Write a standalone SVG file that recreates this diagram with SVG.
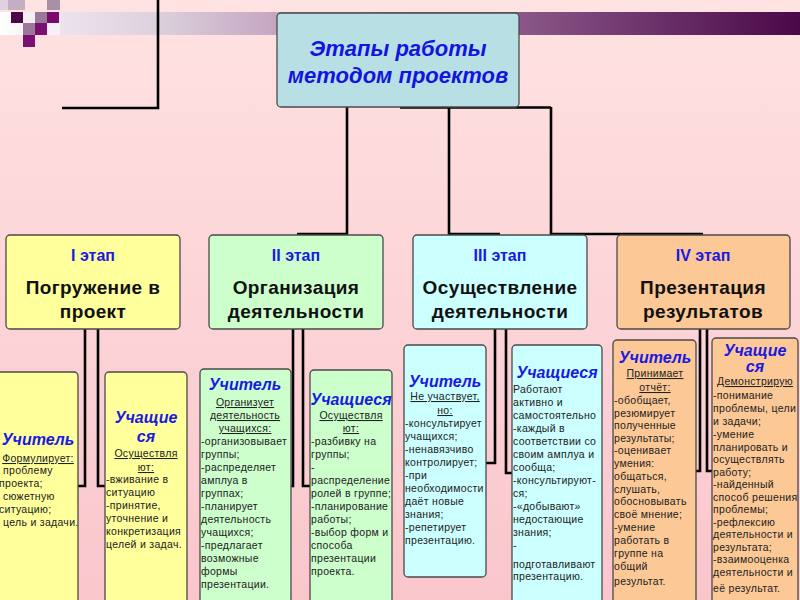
<svg xmlns="http://www.w3.org/2000/svg" width="800" height="600" viewBox="0 0 800 600">
<defs>
<linearGradient id="bg" x1="0" y1="0" x2="0" y2="1">
<stop offset="0" stop-color="#ffe2e2"/>
<stop offset="1" stop-color="#f9c6cc"/>
</linearGradient>
<linearGradient id="band" gradientUnits="userSpaceOnUse" x1="0" y1="0" x2="800" y2="0">
<stop offset="0" stop-color="#ffffff"/>
<stop offset="0.08" stop-color="#ece2ec"/>
<stop offset="0.2" stop-color="#dcd0dc"/>
<stop offset="0.35" stop-color="#c4a4c0"/>
<stop offset="0.65" stop-color="#8a5888"/>
<stop offset="1" stop-color="#4a0848"/>
</linearGradient>
<style>
.box{stroke:#4a4a4a;stroke-width:1.3}
.y{fill:#ffff9c}.g{fill:#ccffcc}.c{fill:#ccffff}.o{fill:#fcc896}
.ttl{font-family:"Liberation Sans",Arial,sans-serif;font-weight:bold;font-style:italic;font-size:22px;fill:#1414e0;text-anchor:middle}
.st{font-family:"Liberation Sans",Arial,sans-serif;font-weight:bold;font-size:16px;fill:#1a1ae0;text-anchor:middle}
.sn{font-family:"Liberation Sans",Arial,sans-serif;font-weight:bold;font-size:19px;letter-spacing:0.4px;fill:#111;text-anchor:middle}
.h{font-family:"Liberation Sans",Arial,sans-serif;font-weight:bold;font-style:italic;font-size:16px;fill:#1a1ae0;text-anchor:middle}
.u{font-family:"Liberation Sans",Arial,sans-serif;font-size:10.5px;letter-spacing:0.3px;fill:#222;text-anchor:middle;text-decoration:underline}
.t{font-family:"Liberation Sans",Arial,sans-serif;font-size:10.5px;letter-spacing:0.3px;fill:#222}
.ln{fill:none;stroke:#000;stroke-width:2.6}
</style>
</defs>
<rect x="0" y="0" width="800" height="600" fill="url(#bg)"/>
<!-- decoration -->
<rect x="0" y="12" width="800" height="23" fill="url(#band)"/>
<rect x="0" y="0" width="8" height="10" fill="#e0d0e0"/>
<rect x="8" y="0" width="17" height="10" fill="#c4aec4"/>
<rect x="47" y="0" width="13" height="10" fill="#a890a8"/>
<rect x="11" y="12" width="12" height="11" fill="#4a0848"/>
<rect x="23" y="12" width="12" height="11" fill="#f4eef4"/>
<rect x="35" y="12" width="12" height="11" fill="#9a7898"/>
<rect x="47" y="12" width="12" height="11" fill="#7a0a70"/>
<rect x="23" y="23" width="12" height="12" fill="#9a7898"/>
<rect x="35" y="23" width="12" height="12" fill="#7a1070"/>
<rect x="47" y="23" width="13" height="12" fill="#f8f0f8"/>
<rect x="23" y="35" width="12" height="12" fill="#7a1070"/>
<path class="ln" d="M158,0 V108 H62"/>

<g id="connectors">
<path class="ln" d="M400,107.5 H551 M347,107 V234 H297 M449,107 V234 H500 M551,107 V234 H703"/>
<path class="ln" d="M85,329 V486 H78 M98,329 V486 H105"/>
<path class="ln" d="M293,329 V486 H291 M303,329 V486 H310"/>
<path class="ln" d="M495,329 V463 H486 M506,329 V473 H512"/>
<path class="ln" d="M700,329 V471 H696 M707,329 V471 H712"/>
</g>

<g id="title">
<rect class="box" x="277" y="13" width="242" height="94" rx="4" fill="#b8e0e4"/>
<text class="ttl" x="398" y="56">Этапы работы</text>
<text class="ttl" x="398" y="83">методом проектов</text>
</g>

<g id="stage1">
<rect class="box y" x="6" y="235" width="174" height="94" rx="4"/>
<text class="st" x="93" y="261">I этап</text>
<text class="sn" x="93" y="294">Погружение в</text>
<text class="sn" x="93" y="318">проект</text>
</g>
<g id="stage2">
<rect class="box g" x="209" y="235" width="174" height="94" rx="4"/>
<text class="st" x="296" y="261">II этап</text>
<text class="sn" x="296" y="294">Организация</text>
<text class="sn" x="296" y="318">деятельности</text>
</g>
<g id="stage3">
<rect class="box c" x="413" y="235" width="174" height="94" rx="4"/>
<text class="st" x="500" y="261">III этап</text>
<text class="sn" x="500" y="294">Осуществление</text>
<text class="sn" x="500" y="318">деятельности</text>
</g>
<g id="stage4">
<rect class="box o" x="617" y="235" width="173" height="94" rx="4"/>
<text class="st" x="703" y="261">IV этап</text>
<text class="sn" x="703" y="294">Презентация</text>
<text class="sn" x="703" y="318">результатов</text>
</g>

<g id="teacher1">
<rect class="box y" x="-4" y="372" width="82" height="234" rx="4"/>
<text class="h" x="38" y="445">Учитель</text>
<text class="u" x="38" y="462">Формулирует:</text>
<text class="t"><tspan x="3" y="474">проблему</tspan><tspan x="-1" y="487">проекта;</tspan><tspan x="3" y="500">сюжетную</tspan><tspan x="-1" y="513">ситуацию;</tspan><tspan x="3" y="526">цель и задачи.</tspan></text>
</g>
<g id="students1">
<rect class="box y" x="105" y="372" width="82" height="234" rx="4"/>
<text class="h" x="146" y="423">Учащие</text>
<text class="h" x="146" y="442">ся</text>
<text class="u" x="146" y="457">Осуществля</text>
<text class="u" x="146" y="471">ют:</text>
<text class="t"><tspan x="106" y="483">-вживание в</tspan><tspan x="106" y="496">ситуацию</tspan><tspan x="106" y="509">-принятие,</tspan><tspan x="106" y="522">уточнение и</tspan><tspan x="106" y="535">конкретизация</tspan><tspan x="106" y="548">целей и задач.</tspan></text>
</g>

<g id="teacher2">
<rect class="box g" x="200" y="369" width="91" height="237" rx="4"/>
<text class="h" x="245" y="390">Учитель</text>
<text class="u" x="245" y="406">Организует</text>
<text class="u" x="245" y="419">деятельность</text>
<text class="u" x="245" y="432">учащихся:</text>
<text class="t"><tspan x="201" y="445">-организовывает</tspan><tspan x="201" y="458">группы;</tspan><tspan x="201" y="471">-распределяет</tspan><tspan x="201" y="484">амплуа в</tspan><tspan x="201" y="497">группах;</tspan><tspan x="201" y="510">-планирует</tspan><tspan x="201" y="523">деятельность</tspan><tspan x="201" y="536">учащихся;</tspan><tspan x="201" y="549">-предлагает</tspan><tspan x="201" y="562">возможные</tspan><tspan x="201" y="575">формы</tspan><tspan x="201" y="588">презентации.</tspan></text>
</g>
<g id="students2">
<rect class="box g" x="310" y="370" width="82" height="236" rx="4"/>
<text class="h" x="351" y="405">Учащиеся</text>
<text class="u" x="351" y="419">Осуществля</text>
<text class="u" x="351" y="432">ют:</text>
<text class="t"><tspan x="311" y="445">-разбивку на</tspan><tspan x="311" y="458">группы;</tspan><tspan x="311" y="471">-</tspan><tspan x="311" y="484">распределение</tspan><tspan x="311" y="497">ролей в группе;</tspan><tspan x="311" y="510">-планирование</tspan><tspan x="311" y="523">работы;</tspan><tspan x="311" y="536">-выбор форм и</tspan><tspan x="311" y="549">способа</tspan><tspan x="311" y="562">презентации</tspan><tspan x="311" y="575">проекта.</tspan></text>
</g>

<g id="teacher3">
<rect class="box c" x="404" y="345" width="82" height="232" rx="4"/>
<text class="h" x="445" y="387">Учитель</text>
<text class="u" x="445" y="400">Не участвует,</text>
<text class="u" x="445" y="414">но:</text>
<text class="t"><tspan x="405" y="427">-консультирует</tspan><tspan x="405" y="440">учащихся;</tspan><tspan x="405" y="453">-ненавязчиво</tspan><tspan x="405" y="466">контролирует;</tspan><tspan x="405" y="479">-при</tspan><tspan x="405" y="492">необходимости</tspan><tspan x="405" y="505">даёт новые</tspan><tspan x="405" y="518">знания;</tspan><tspan x="405" y="531">-репетирует</tspan><tspan x="405" y="544">презентацию.</tspan></text>
</g>
<g id="students3">
<rect class="box c" x="512" y="345" width="90" height="261" rx="4"/>
<text class="h" x="557" y="378">Учащиеся</text>
<text class="t"><tspan x="513" y="393">Работают</tspan><tspan x="513" y="406">активно и</tspan><tspan x="513" y="419">самостоятельно</tspan><tspan x="513" y="432">-каждый в</tspan><tspan x="513" y="445">соответствии со</tspan><tspan x="513" y="458">своим амплуа и</tspan><tspan x="513" y="471">сообща;</tspan><tspan x="513" y="484">-консультируют-</tspan><tspan x="513" y="497">ся;</tspan><tspan x="513" y="510">-«добывают»</tspan><tspan x="513" y="523">недостающие</tspan><tspan x="513" y="536">знания;</tspan><tspan x="513" y="549">-</tspan><tspan x="513" y="568">подготавливают</tspan><tspan x="513" y="580">презентацию.</tspan></text>
</g>

<g id="teacher4">
<rect class="box o" x="613" y="340" width="83" height="266" rx="4"/>
<text class="h" x="655" y="363">Учитель</text>
<text class="u" x="655" y="377">Принимает</text>
<text class="u" x="655" y="391">отчёт:</text>
<text class="t"><tspan x="614" y="404">-обобщает,</tspan><tspan x="614" y="417">резюмирует</tspan><tspan x="614" y="429">полученные</tspan><tspan x="614" y="442">результаты;</tspan><tspan x="614" y="454">-оценивает</tspan><tspan x="614" y="467">умения:</tspan><tspan x="614" y="480">общаться,</tspan><tspan x="614" y="493">слушать,</tspan><tspan x="614" y="505">обосновывать</tspan><tspan x="614" y="518">своё мнение;</tspan><tspan x="614" y="531">-умение</tspan><tspan x="614" y="544">работать в</tspan><tspan x="614" y="557">группе на</tspan><tspan x="614" y="570">общий</tspan><tspan x="614" y="585">результат.</tspan></text>
</g>
<g id="students4">
<rect class="box o" x="712" y="338" width="86" height="268" rx="4"/>
<text class="h" x="755" y="356">Учащие</text>
<text class="h" x="755" y="372">ся</text>
<text class="u" x="755" y="385">Демонстрирую</text>
<text class="t"><tspan x="713" y="399">-понимание</tspan><tspan x="713" y="412">проблемы, цели</tspan><tspan x="713" y="425">и задачи;</tspan><tspan x="713" y="438">-умение</tspan><tspan x="713" y="451">планировать и</tspan><tspan x="713" y="463">осуществлять</tspan><tspan x="713" y="476">работу;</tspan><tspan x="713" y="488">-найденный</tspan><tspan x="713" y="501">способ решения</tspan><tspan x="713" y="513">проблемы;</tspan><tspan x="713" y="526">-рефлексию</tspan><tspan x="713" y="538">деятельности и</tspan><tspan x="713" y="551">результата;</tspan><tspan x="713" y="563">-взаимооценка</tspan><tspan x="713" y="576">деятельности и</tspan><tspan x="713" y="592">её результат.</tspan></text>
</g>
</svg>
